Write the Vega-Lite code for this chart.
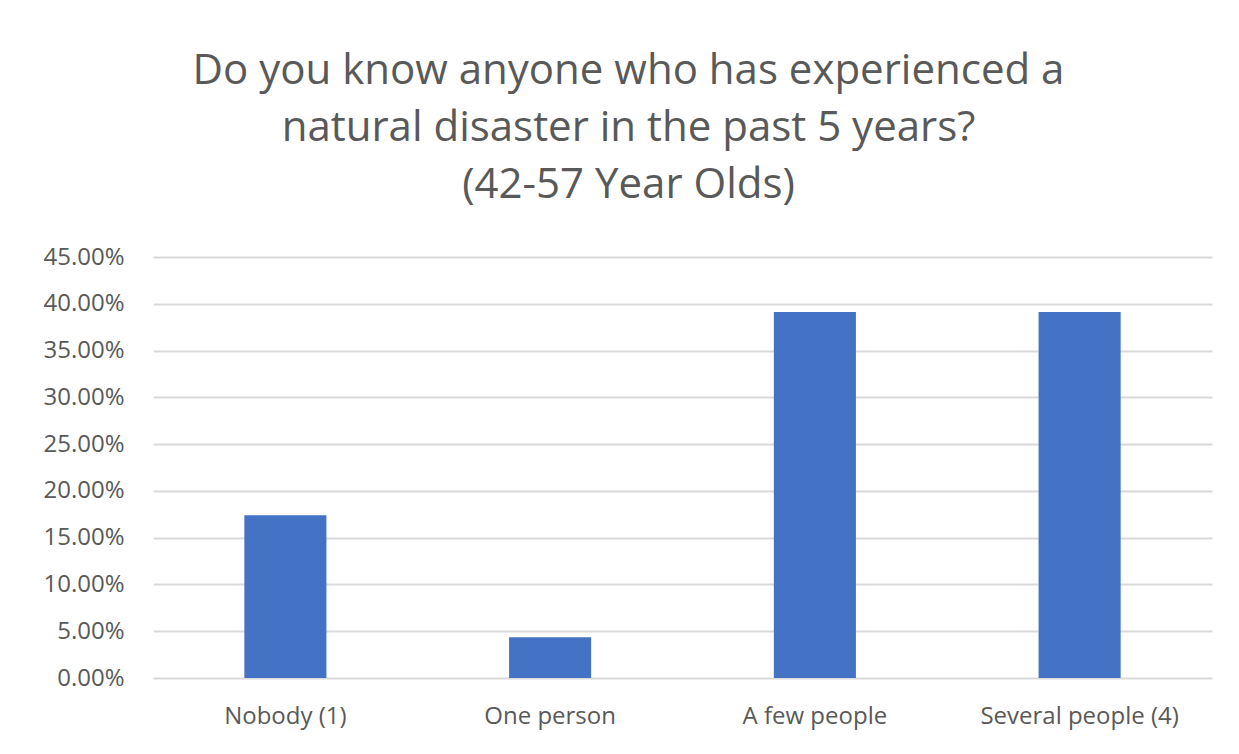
{
  "$schema": "https://vega.github.io/schema/vega-lite/v6.json",
  "autosize": "none",
  "width": 1059,
  "height": 421,
  "padding": {"left": 153, "top": 257, "right": 27, "bottom": 76},
  "background": "white",
  "data": {"values": [
    {"category": "Nobody (1)", "pct": 0.1739},
    {"category": "One person", "pct": 0.0435},
    {"category": "A few people", "pct": 0.3913},
    {"category": "Several people (4)", "pct": 0.3913}
  ]},
  "title": {
    "text": ["Do you know anyone who has experienced a", "natural disaster in the past 5 years?", "(42-57 Year Olds)"],
    "font": "Open Sans",
    "fontSize": 42,
    "fontWeight": "normal",
    "color": "#595959",
    "lineHeight": 57,
    "anchor": "middle",
    "dx": -54,
    "offset": 38
  },
  "mark": {"type": "bar", "color": "#4472C4"},
  "encoding": {
    "x": {
      "field": "category", "type": "nominal", "sort": null,
      "scale": {"paddingInner": 0.69, "paddingOuter": 0.345},
      "axis": {"title": null, "labelAngle": 0, "domain": false, "ticks": false, "grid": false, "labelLimit": 0,
               "labelFont": "Open Sans", "labelFontSize": 24, "labelColor": "#595959", "labelPadding": 26}
    },
    "y": {
      "field": "pct", "type": "quantitative",
      "scale": {"domain": [0, 0.45]},
      "axis": {"title": null, "format": ".2%", "values": [0, 0.05, 0.1, 0.15, 0.2, 0.25, 0.3, 0.35, 0.4, 0.45],
               "domain": false, "ticks": false, "grid": true, "gridColor": "#d9d9d9", "gridWidth": 2,
               "labelFont": "Open Sans", "labelFontSize": 24, "labelColor": "#595959", "labelPadding": 29}
    }
  },
  "config": {"view": {"stroke": null}}
}
